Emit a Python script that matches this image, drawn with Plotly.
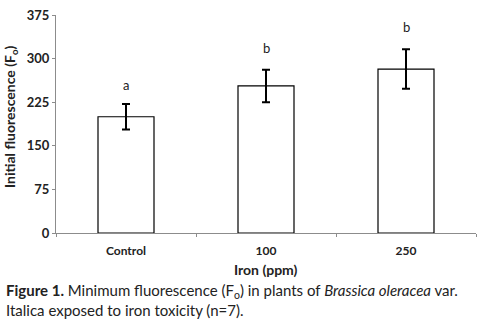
import plotly.graph_objects as go

categories = ["Control", "100", "250"]
values = [200, 253, 282]
errors = [22, 28, 34]
letters = ["a", "b", "b"]
letter_y = [255, 319, 354]
y_ticks = [0, 75, 150, 225, 300, 375]

W, H = 479, 322
ml, mr, mt, mb = 56, 3, 15, 89
pw = W - ml - mr
ph = H - mt - mb


def px_x(x):
    return (x - ml) / pw


def px_y(y):
    return (H - mb - y) / ph


fig = go.Figure()
fig.add_trace(go.Bar(
    x=categories, y=values, width=0.4,
    marker=dict(color="white", line=dict(color="black", width=1.2)),
    error_y=dict(type="data", array=errors, visible=True, color="black",
                 thickness=2, width=4),
    showlegend=False,
))

for i, (t, ly) in enumerate(zip(letters, letter_y)):
    fig.add_annotation(x=i, y=ly, text=t, showarrow=False,
                       font=dict(family="Lato", size=13, color="#222"))

# axis titles
fig.add_annotation(xref="paper", yref="paper", x=px_x(10), y=px_y(117),
                   text="<b>Initial fluorescence (F<sub>o</sub>)</b>", textangle=-90,
                   showarrow=False, xanchor="center", yanchor="middle",
                   font=dict(family="Lato", size=14, color="#222"))
fig.add_annotation(xref="paper", yref="paper", x=px_x(266), y=px_y(269),
                   text="<b>Iron (ppm)</b>", showarrow=False,
                   xanchor="center", yanchor="middle",
                   font=dict(family="Lato", size=14, color="#222"))

# caption
cap1 = ("<b>Figure 1.</b> Minimum fluorescence (F<sub>o</sub>) in plants of "
        "<i>Brassica oleracea</i> var.")
cap2 = "Italica exposed to iron toxicity (n=7)."
fig.add_annotation(xref="paper", yref="paper", x=px_x(4), y=px_y(291),
                   text=cap1, showarrow=False, xanchor="left", yanchor="middle",
                   font=dict(family="Lato", size=15, color="#222"))
fig.add_annotation(xref="paper", yref="paper", x=px_x(4), y=px_y(310),
                   text=cap2, showarrow=False, xanchor="left", yanchor="middle",
                   font=dict(family="Lato", size=15, color="#222"))

fig.update_layout(
    width=W, height=H,
    margin=dict(l=ml, r=mr, t=mt, b=mb, autoexpand=False),
    paper_bgcolor="white", plot_bgcolor="white",
    xaxis=dict(
        range=[-0.5, 2.5], showline=True, linecolor="#8c8c8c", linewidth=1,
        ticks="outside", tickson="boundaries", ticklen=3, tickcolor="#8c8c8c",
        ticklabelstandoff=7,
        tickfont=dict(family="Lato", size=12, color="#222", weight="bold"),
        showgrid=False, zeroline=False, automargin=False,
    ),
    yaxis=dict(
        range=[0, 375], tickvals=y_ticks, showline=True, linecolor="#8c8c8c",
        linewidth=1, ticks="outside", ticklen=3, tickcolor="#8c8c8c",
        tickfont=dict(family="Lato", size=13, color="#222", weight="bold"),
        showgrid=False, zeroline=False, automargin=False,
    ),
)

fig.write_html("out.html", config={"displayModeBar": False},
               post_script="document.body.style.margin='0';document.body.style.overflow='hidden';")
